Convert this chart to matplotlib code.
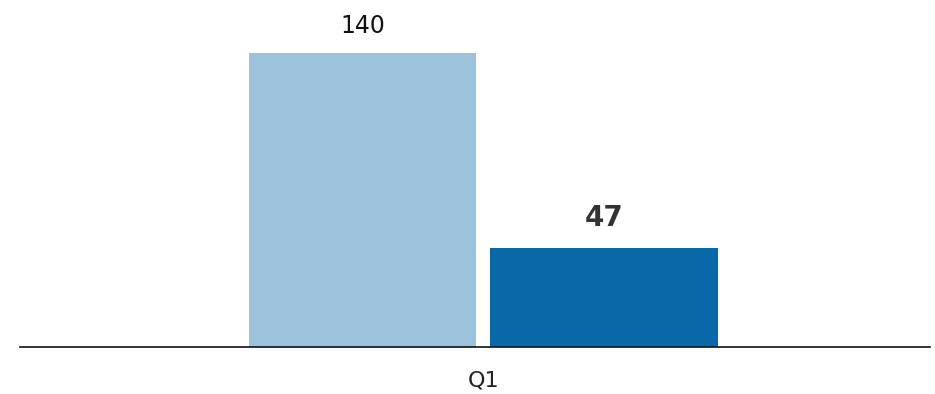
import matplotlib
matplotlib.use("Agg")
import matplotlib.pyplot as plt

categories = ["Q1"]
series_names = ["Series A", "Series B"]
values_a = [140]
values_b = [47]

colors = ["#9dc3dc", "#0868a8"]

fig = plt.figure(figsize=(9.35, 3.94), dpi=100)
ax = fig.add_axes([20 / 935, 47 / 394, 910 / 935, 347 / 394])

width = 0.25
gap = 0.0155
x = list(range(len(categories)))

bars_a = ax.bar([i - (width + gap) / 2 for i in x], values_a, width=width, color=colors[0])
bars_b = ax.bar([i + (width + gap) / 2 for i in x], values_b, width=width, color=colors[1])

for bar, v in zip(bars_a, values_a):
    ax.text(bar.get_x() + bar.get_width() / 2, v + 7, f"{v}",
            ha="center", va="bottom", fontsize=17, color="#111111", family="DejaVu Sans")

for bar, v in zip(bars_b, values_b):
    ax.text(bar.get_x() + bar.get_width() / 2, v + 8, f"{v}",
            ha="center", va="bottom", fontsize=20, fontweight="heavy", color="#333333", family="DejaVu Sans")

ax.set_xlim(-0.509, 0.491)
ax.set_ylim(0, 347 / 2.1)

ax.set_xticks(x)
ax.set_xticklabels(categories, fontsize=16, color="#222222")
ax.tick_params(axis="x", length=0, pad=17)
ax.set_yticks([])

for side in ["top", "right", "left"]:
    ax.spines[side].set_visible(False)
ax.spines["bottom"].set_color("#111111")
ax.spines["bottom"].set_linewidth(1.2)

fig.savefig("out.png", dpi=100)
